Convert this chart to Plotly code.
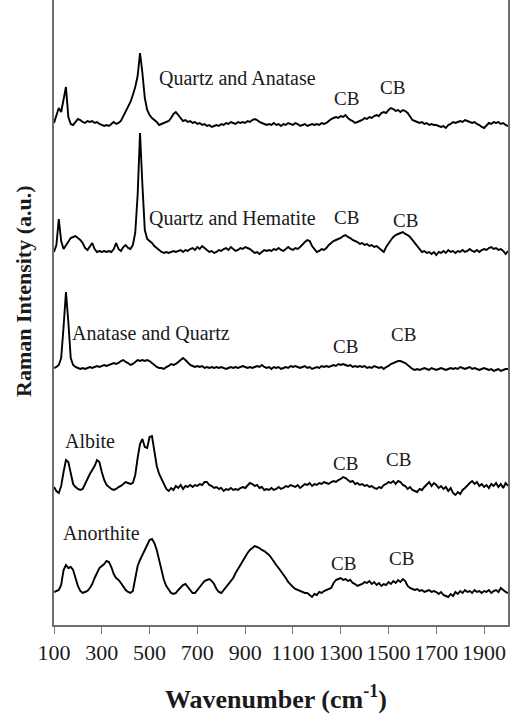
import plotly.graph_objects as go

# Raman shift grid (cm-1)
wavenumber = list(range(100, 2001, 10))

# Intensities (a.u.), one row per 100 cm-1
anorthite = [
    6, 7, 8, 13, 28, 33, 30, 31, 28, 20,
    12, 7, 5, 6, 7, 10, 14, 20, 26, 30,
    32, 34, 37, 36, 31, 24, 20, 18, 15, 11,
    8, 6, 5, 7, 18, 32, 38, 43, 48, 53,
    58, 59, 55, 48, 38, 28, 18, 12, 8, 5,
    4, 5, 8, 11, 13, 14, 11, 8, 5, 5,
    8, 12, 15, 17, 18, 19, 17, 14, 9, 6,
    5, 8, 11, 13, 16, 20, 25, 29, 33, 38,
    42, 45, 48, 50, 52, 51, 50, 48, 47, 45,
    43, 40, 36, 33, 30, 27, 23, 20, 16, 13,
    11, 9, 8, 7, 6, 5, 5, 3, 1, 4,
    3, 6, 5, 7, 8, 9, 10, 15, 18, 19,
    20, 18, 19, 17, 18, 15, 14, 12, 13, 14,
    16, 15, 17, 14, 16, 13, 15, 12, 14, 13,
    16, 14, 17, 15, 18, 16, 19, 17, 12, 10,
    9, 8, 9, 7, 8, 6, 7, 8, 6, 7,
    6, 4, 6, 3, 2, 1, 4, 2, 6, 4,
    7, 5, 8, 6, 7, 5, 8, 6, 7, 5,
    7, 6, 8, 5, 7, 8, 6, 10, 8, 6,
    5,
]

albite = [
    9, 5, 3, 10, 24, 36, 34, 22, 12, 9,
    7, 6, 7, 12, 18, 22, 26, 30, 36, 34,
    24, 16, 11, 9, 7, 6, 7, 9, 10, 12,
    14, 13, 12, 13, 21, 38, 52, 57, 49, 48,
    59, 60, 44, 30, 22, 17, 12, 7, 5, 8,
    6, 10, 8, 11, 7, 10, 9, 11, 9, 11,
    10, 12, 11, 14, 14, 11, 10, 8, 9, 7,
    8, 5, 7, 6, 8, 6, 7, 6, 8, 9,
    8, 11, 13, 12, 10, 11, 8, 9, 6, 7,
    6, 8, 6, 7, 9, 7, 8, 10, 9, 11,
    10, 9, 11, 8, 10, 12, 11, 13, 10, 12,
    11, 13, 12, 14, 13, 12, 14, 15, 14, 16,
    17, 19, 18, 16, 14, 15, 12, 13, 11, 12,
    10, 11, 9, 10, 8, 7, 9, 8, 11, 12,
    14, 13, 15, 12, 15, 14, 11, 10, 7, 9,
    6, 5, 4, 7, 6, 9, 12, 14, 10, 13,
    11, 8, 10, 7, 9, 5, 8, 3, 1, 4,
    2, 6, 8, 11, 13, 15, 12, 14, 10, 12,
    9, 11, 8, 12, 10, 13, 9, 12, 8, 13,
    10,
]

anatase_quartz = [
    4, 5, 7, 14, 45, 80, 50, 14, 7, 5,
    4, 3, 4, 3, 4, 5, 4, 5, 6, 5,
    6, 7, 6, 7, 8, 9, 8, 9, 11, 12,
    10, 9, 7, 8, 10, 12, 11, 12, 11, 12,
    11, 9, 7, 5, 4, 4, 3, 5, 6, 8,
    7, 8, 10, 12, 14, 12, 9, 7, 6, 5,
    6, 5, 6, 4, 5, 4, 5, 4, 5, 4,
    5, 4, 3, 4, 5, 4, 5, 4, 5, 6,
    5, 4, 5, 4, 5, 6, 5, 7, 5, 4,
    5, 3, 5, 4, 5, 3, 4, 5, 4, 6,
    5, 6, 5, 4, 5, 6, 4, 5, 3, 4,
    5, 4, 6, 5, 6, 5, 6, 7, 6, 8,
    7, 8, 7, 6, 7, 5, 6, 5, 6, 5,
    6, 4, 5, 4, 6, 5, 4, 5, 3, 5,
    6, 8, 9, 10, 11, 11, 10, 9, 7, 5,
    3, 2, 3, 2, 3, 4, 3, 2, 4, 3,
    2, 3, 4, 3, 2, 3, 4, 3, 4, 3,
    5, 4, 3, 4, 5, 3, 4, 3, 2, 3,
    4, 3, 2, 3, 1, 2, 3, 1, 2, 3,
    3,
]

quartz_hematite = [
    3, 10, 36, 14, 6, 10, 14, 17, 18, 19,
    17, 15, 12, 7, 5, 9, 12, 6, 3, 4,
    3, 4, 3, 4, 3, 6, 12, 6, 4, 8,
    10, 7, 6, 10, 22, 60, 122, 70, 25, 16,
    14, 12, 9, 7, 5, 3, 2, 3, 2, 3,
    4, 3, 4, 5, 3, 5, 4, 6, 7, 5,
    8, 6, 9, 7, 5, 3, 4, 2, 3, 5,
    4, 6, 7, 5, 8, 6, 4, 5, 7, 6,
    8, 7, 6, 4, 2, 3, 1, 3, 5, 4,
    5, 4, 6, 5, 7, 5, 4, 6, 8, 6,
    5, 7, 6, 8, 11, 13, 15, 14, 9, 6,
    3, 4, 6, 5, 7, 10, 12, 14, 15, 16,
    17, 19, 20, 18, 17, 15, 14, 13, 11, 12,
    10, 11, 9, 10, 8, 9, 7, 5, 3, 8,
    12, 15, 18, 20, 21, 22, 23, 21, 20, 18,
    15, 11, 8, 5, 3, 4, 2, 3, 1, 3,
    0, 3, 2, 4, 2, 5, 3, 4, 2, 4,
    3, 5, 3, 4, 6, 4, 3, 5, 3, 5,
    6, 5, 7, 8, 6, 7, 5, 6, 4, 1,
    4,
]

quartz_anatase = [
    5, 12, 20, 16, 28, 41, 11, 4, 3, 6,
    9, 8, 6, 5, 7, 6, 7, 5, 6, 4,
    3, 2, 3, 2, 4, 6, 4, 5, 7, 12,
    16, 22, 26, 33, 41, 52, 75, 55, 30, 18,
    13, 10, 8, 6, 3, 4, 5, 6, 7, 10,
    14, 16, 13, 9, 7, 8, 6, 7, 5, 6,
    4, 5, 3, 4, 2, 3, 1, 2, 3, 2,
    4, 3, 5, 4, 6, 5, 4, 6, 5, 6,
    5, 7, 6, 8, 9, 8, 6, 5, 4, 3,
    4, 3, 5, 3, 4, 2, 4, 3, 5, 4,
    3, 5, 4, 2, 3, 4, 2, 3, 4, 3,
    4, 3, 5, 4, 5, 7, 9, 10, 11, 10,
    12, 11, 13, 10, 8, 7, 5, 6, 7, 8,
    10, 9, 11, 10, 12, 13, 12, 15, 16, 15,
    18, 20, 19, 17, 18, 16, 18, 17, 15, 12,
    8, 7, 6, 5, 6, 4, 5, 3, 4, 3,
    3, 2, 1, 2, 0, 3, 4, 6, 5, 6,
    7, 6, 8, 7, 6, 5, 6, 4, 3, 1,
    0, 3, 5, 4, 6, 5, 6, 4, 5, 3,
    2,
]

# Vertical stacking offsets (a.u.)
spectra = [anorthite, albite, anatase_quartz, quartz_hematite, quartz_anatase]
offsets = [27, 129, 253, 370, 497]

for s in spectra:
    assert len(s) == len(wavenumber), len(s)

# Sample labels: (text, x, y)
sample_labels = [
    ("Anorthite", 297, 92),
    ("Albite", 249, 184),
    ("Anatase and Quartz", 508, 292),
    ("Quartz and Hematite", 845, 407),
    ("Quartz and Anatase", 868, 547),
]
# Carbon-black band labels: (x, y)
cb_labels = [
    (1310, 62), (1553, 67),
    (1322, 162), (1540, 166),
    (1322, 279), (1561, 291),
    (1326, 408), (1569, 405),
    (1326, 527), (1515, 538),
]

serif = "Liberation Serif, Times New Roman, serif"
ink = "#1a1a1a"

fig = go.Figure()
for s, off in zip(spectra, offsets):
    fig.add_trace(go.Scatter(
        x=wavenumber, y=[v + off for v in s], mode="lines",
        line=dict(color="#000000", width=1.9), showlegend=False,
        hoverinfo="skip",
    ))

for text, x, y in sample_labels:
    fig.add_annotation(x=x, y=y, text=text, showarrow=False,
                       xanchor="center", yanchor="middle",
                       font=dict(family=serif, size=20, color=ink))
for x, y in cb_labels:
    fig.add_annotation(x=x, y=y, text="CB", showarrow=False,
                       xanchor="center", yanchor="middle",
                       font=dict(family=serif, size=19, color=ink))

# Axis titles
fig.add_annotation(xref="paper", yref="paper", x=0.488, y=-0.1152,
                   text="<b>Wavenumber (cm<sup>-1</sup>)</b>", showarrow=False,
                   xanchor="center", yanchor="middle",
                   font=dict(family=serif, size=26, color=ink))
fig.add_annotation(xref="paper", yref="paper", x=-0.066, y=0.533,
                   text="<b>Raman Intensity (a.u.)</b>", showarrow=False,
                   textangle=-90, xanchor="center", yanchor="middle",
                   font=dict(family=serif, size=22, color=ink))

fig.update_layout(
    width=511, height=715,
    margin=dict(l=54, r=3, t=0, b=90),
    paper_bgcolor="white", plot_bgcolor="white",
    font=dict(family=serif, color=ink),
    xaxis=dict(
        range=[100, 2000], tickvals=list(range(100, 2000, 200)),
        ticks="outside", ticklen=7, tickcolor="#7a7a7a", tickwidth=1,
        showline=True, linecolor="#6e6e6e", linewidth=1.5,
        showgrid=False, zeroline=False,
        tickfont=dict(family=serif, size=22, color=ink),
    ),
    yaxis=dict(
        range=[0, 625], showticklabels=False, ticks="",
        showline=True, mirror=True, linecolor="#6e6e6e", linewidth=1.5,
        showgrid=False, zeroline=False,
    ),
)

fig.write_html("out.html")
